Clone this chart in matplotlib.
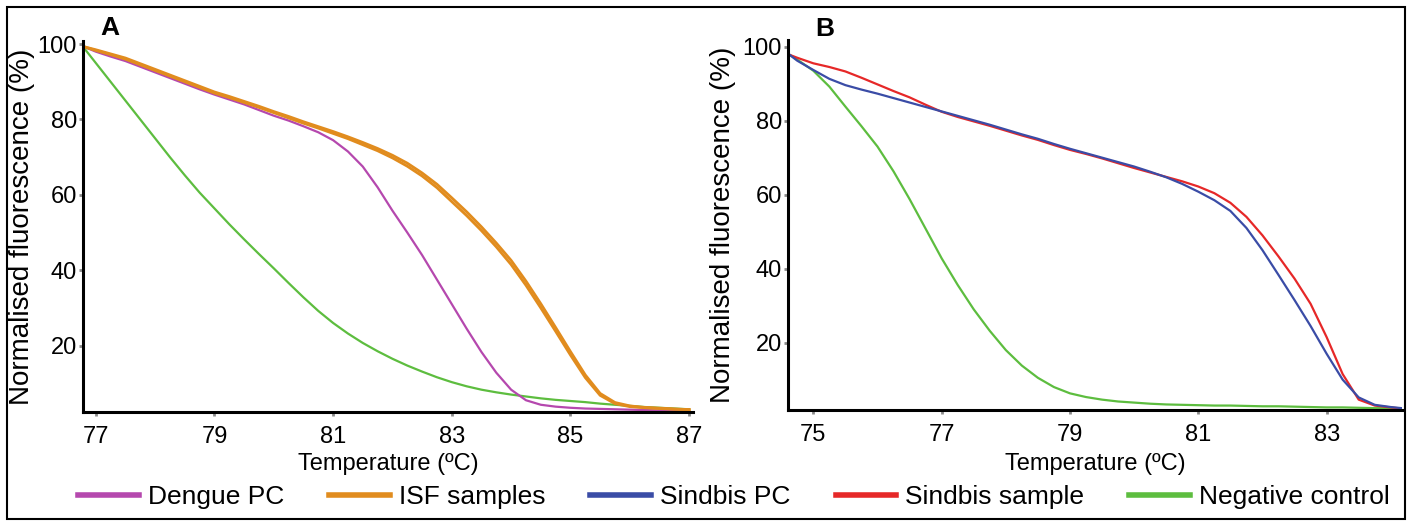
import matplotlib
matplotlib.use("Agg")
import matplotlib.pyplot as plt
from matplotlib.patches import Rectangle

plt.rcParams['font.family'] = ['Liberation Sans', 'DejaVu Sans']

# ---------------- Panel A data ----------------
a_temp = [76.8, 77.0, 77.25, 77.5, 77.75, 78.0, 78.25, 78.5, 78.75, 79.0, 79.25,
          79.5, 79.75, 80.0, 80.25, 80.5, 80.75, 81.0, 81.25, 81.5, 81.75, 82.0,
          82.25, 82.5, 82.75, 83.0, 83.25, 83.5, 83.75, 84.0, 84.25, 84.5, 84.75,
          85.0, 85.25, 85.5, 85.75, 86.0, 86.25, 86.5, 86.75, 87.0]
dengue_pc = [99.3, 98.0, 96.7, 95.5, 94.0, 92.5, 91.0, 89.5, 88.0, 86.6, 85.3,
             84.0, 82.5, 81.0, 79.7, 78.2, 76.6, 74.5, 71.5, 67.5, 62.0, 55.8,
             50.0, 44.0, 37.5, 31.0, 24.5, 18.3, 12.8, 8.3, 5.5, 4.3, 3.8,
             3.5, 3.3, 3.2, 3.1, 3.0, 2.9, 2.8, 2.7, 2.6]
isf_sample_1 = [99.3, 98.3, 97.2, 96.0, 94.5, 93.0, 91.5, 90.0, 88.5, 87.0, 85.8,
                84.5, 83.2, 81.8, 80.4, 79.0, 77.7, 76.3, 74.9, 73.3, 71.7, 69.8,
                67.6, 65.0, 61.9, 58.2, 54.5, 50.5, 46.2, 41.5, 36.0, 30.0, 23.8,
                17.5, 11.5, 6.8, 4.6, 3.8, 3.5, 3.3, 3.1, 3.0]
isf_sample_2 = [99.3, 98.5, 97.4, 96.3, 94.8, 93.3, 91.8, 90.3, 88.8, 87.3, 86.1,
                84.8, 83.5, 82.1, 80.8, 79.4, 78.1, 76.8, 75.4, 73.9, 72.3, 70.5,
                68.4, 65.8, 62.8, 59.2, 55.5, 51.5, 47.2, 42.6, 37.1, 31.1, 24.8,
                18.4, 12.2, 7.3, 4.9, 4.0, 3.6, 3.4, 3.2, 3.0]
neg_ctrl_a = [99.0, 95.0, 90.0, 85.0, 80.0, 75.0, 70.0, 65.2, 60.6, 56.4, 52.2,
              48.2, 44.3, 40.5, 36.6, 32.8, 29.2, 26.0, 23.2, 20.7, 18.5, 16.5,
              14.7, 13.1, 11.6, 10.3, 9.2, 8.3, 7.6, 7.0, 6.5, 6.0, 5.6,
              5.3, 5.0, 4.6, 4.3, 4.0, 3.7, 3.5, 3.3, 3.1]

# ---------------- Panel B data ----------------
b_temp = [74.63, 74.75, 75.0, 75.25, 75.5, 75.75, 76.0, 76.25, 76.5, 76.75,
          77.0, 77.25, 77.5, 77.75, 78.0, 78.25, 78.5, 78.75, 79.0, 79.25,
          79.5, 79.75, 80.0, 80.25, 80.5, 80.75, 81.0, 81.25, 81.5, 81.75,
          82.0, 82.25, 82.5, 82.75, 83.0, 83.25, 83.5, 83.75, 84.0, 84.17]
sindbis_sample = [97.8, 97.0, 95.5, 94.5, 93.3, 91.6, 89.8, 88.0, 86.3, 84.3,
                  82.4, 81.0, 79.8, 78.6, 77.3, 76.0, 74.8, 73.4, 72.1, 71.0,
                  69.8, 68.5, 67.2, 66.0, 64.8, 63.6, 62.2, 60.4, 57.8, 54.0,
                  49.0, 43.3, 37.3, 30.5, 21.5, 11.5, 4.6, 3.0, 2.5, 2.2]
sindbis_pc = [97.8, 96.2, 93.7, 91.3, 89.6, 88.4, 87.3, 86.1, 84.9, 83.7,
              82.5, 81.3, 80.1, 78.9, 77.6, 76.3, 75.1, 73.7, 72.4, 71.2,
              70.0, 68.8, 67.6, 66.2, 64.7, 62.9, 60.8, 58.5, 55.6, 51.0,
              45.0, 38.3, 31.5, 24.5, 17.0, 10.0, 5.2, 3.2, 2.6, 2.3]
neg_ctrl_b = [97.8, 96.5, 93.5, 89.2, 83.8, 78.5, 73.0, 66.3, 58.8, 50.8,
              42.8, 35.6, 29.0, 23.2, 18.0, 13.8, 10.5, 8.0, 6.3, 5.3,
              4.6, 4.1, 3.8, 3.5, 3.3, 3.2, 3.1, 3.0, 3.0, 2.9,
              2.8, 2.8, 2.7, 2.6, 2.5, 2.5, 2.4, 2.3, 2.3, 2.2]

a_xticks = [77, 79, 81, 83, 85, 87]
b_xticks = [75, 77, 79, 81, 83]
yticks = [20, 40, 60, 80, 100]

legend_labels = ["Dengue PC", "ISF samples", "Sindbis PC", "Sindbis sample", "Negative control"]
colors = {"Dengue PC": "#B548AE", "ISF samples": "#E18C1E", "Sindbis PC": "#3A4CA6",
          "Sindbis sample": "#E62828", "Negative control": "#5DBD3F"}

W, H = 1412, 521
fig = plt.figure(figsize=(W / 100, H / 100), dpi=100)

def px_axes(l, r, t, b):
    return fig.add_axes([l / W, 1 - b / H, (r - l) / W, (b - t) / H])

axA = px_axes(83.3, 693.3, 40.7, 412.3)
axB = px_axes(788.3, 1401.7, 40.0, 410.0)

lw = 1.6
axA.plot(a_temp, neg_ctrl_a, color=colors["Negative control"], lw=lw)
axA.plot(a_temp, dengue_pc, color=colors["Dengue PC"], lw=lw)
axA.plot(a_temp, isf_sample_1, color=colors["ISF samples"], lw=lw + 0.4)
axA.plot(a_temp, isf_sample_2, color=colors["ISF samples"], lw=lw + 0.4)

axB.plot(b_temp, neg_ctrl_b, color=colors["Negative control"], lw=lw)
axB.plot(b_temp, sindbis_sample, color=colors["Sindbis sample"], lw=lw)
axB.plot(b_temp, sindbis_pc, color=colors["Sindbis PC"], lw=lw)

axA.set_xlim(76.79, 87.07)
axA.set_ylim(2.3, 100.9)
axB.set_xlim(74.61, 84.17)
axB.set_ylim(1.8, 101.8)
axA.set_xticks(a_xticks)
axB.set_xticks(b_xticks)

for ax in (axA, axB):
    ax.set_yticks(yticks)
    for s in ("top", "right"):
        ax.spines[s].set_visible(False)
    for s in ("left", "bottom"):
        ax.spines[s].set_linewidth(2.2)
        ax.spines[s].set_color("black")
    ax.tick_params(direction="out", length=3, width=2, color="#8a8a8a",
                   labelsize=17)
    ax.tick_params(axis="x", pad=7)
    ax.tick_params(axis="y", pad=1.5)
    ax.set_xlabel("Temperature (ºC)", fontsize=17)
    ax.set_ylabel("Normalised fluorescence (%)", fontsize=20)

axA.xaxis.set_label_coords(0.5, -(453 - 412.3) / 371.6)
axB.xaxis.set_label_coords(0.5, -(453 - 410.0) / 370.0)
axA.yaxis.set_label_coords(-(83.3 - 35) / 610.0, 0.5)
axB.yaxis.set_label_coords(-(788.3 - 736) / 613.4, 0.5)

fig.text(110 / W, 1 - 28 / H, "A", fontsize=19, fontweight="bold", ha="center", va="center")
fig.text(825 / W, 1 - 29 / H, "B", fontsize=19, fontweight="bold", ha="center", va="center")

handles = [plt.Line2D([], [], color=colors[k], lw=4) for k in legend_labels]
fig.legend(handles, legend_labels, loc="center", bbox_to_anchor=(734 / W, 1 - 497 / H),
           ncol=5, frameon=False, fontsize=19, handlelength=2.3, handletextpad=0.35,
           columnspacing=1.7, borderaxespad=0)

fig.patches.append(Rectangle((0.005, 0.004), 0.99, 0.983, transform=fig.transFigure,
                             fill=False, lw=1.5, ec="black"))

fig.savefig("out.png", dpi=100)
